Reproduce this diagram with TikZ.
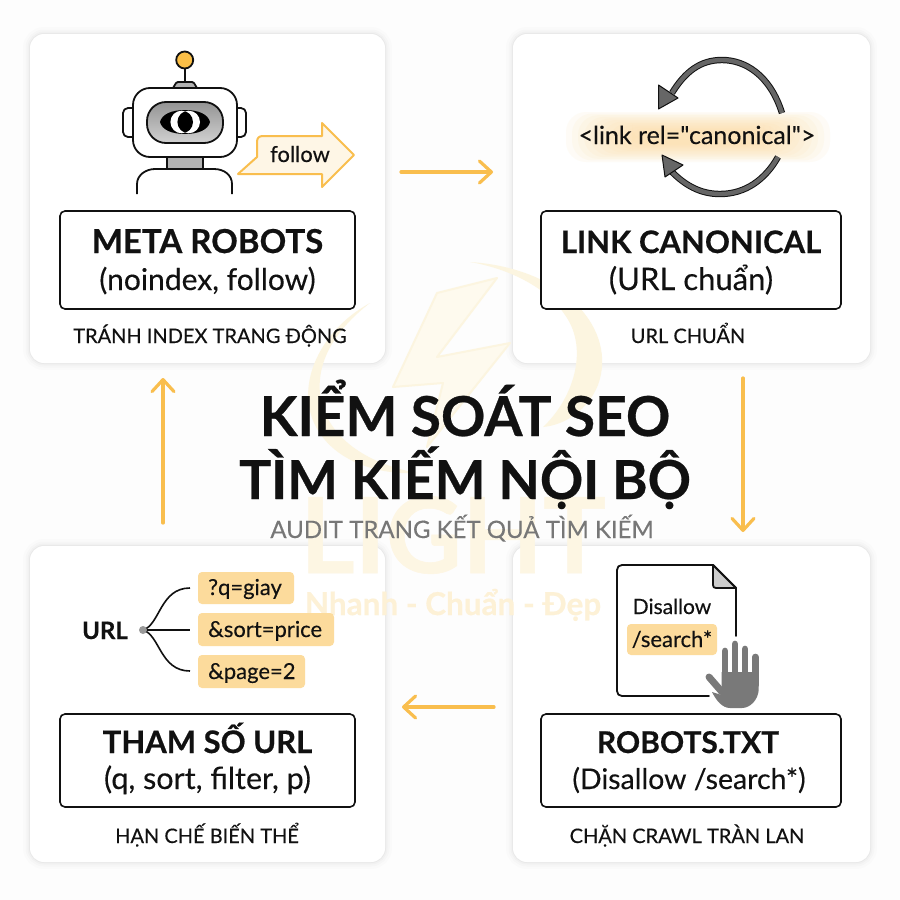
\documentclass[tikz,border=0pt]{standalone}
\usepackage{fontspec}
\setmainfont{Lato}[UprightFeatures={FakeBold=0.25},BoldFeatures={FakeBold=0.5}]
\newfontfamily\plainlato{Lato}[UprightFeatures={FakeBold=0.25}]
\usetikzlibrary{arrows.meta,shapes.geometric}
\definecolor{ink}{HTML}{111111}
\definecolor{flow}{HTML}{F9BE4E}
\definecolor{pill}{HTML}{FCDB9C}
\definecolor{ball}{HTML}{FBBF47}
\definecolor{sub}{HTML}{777777}
\definecolor{mark}{HTML}{FDF6E3}
\definecolor{markt}{HTML}{FDF1D6}
\definecolor{markb}{HTML}{FCF5E0}
\definecolor{bgc}{HTML}{FDFDFD}
\definecolor{handc}{HTML}{797979}
\definecolor{arcc}{HTML}{666666}
\tikzset{
 fs/.style={font=\fontsize{#1}{#1}\selectfont},
 card/.style={rectangle,fill=white,rounded corners=14pt,inner sep=0pt,
  preaction={draw=black,opacity=.012,line width=14pt},
  preaction={draw=black,opacity=.015,line width=9pt},
  preaction={draw=black,opacity=.02,line width=5pt},
  preaction={draw=black,opacity=.03,line width=2pt}},
 labelbox/.style={rectangle,draw=ink,line width=1.6pt,fill=white,rounded corners=5pt,inner sep=0pt},
 txt/.style={inner sep=0pt,text=ink,anchor=base},
 title/.style={txt,font=\fontsize{#1}{#1}\selectfont\bfseries},
 detail/.style={txt,fs=#1},
 caption/.style={txt,fs=20},
 flowarrow/.style={draw=flow,line width=3.2pt,line cap=round,-{Straight Barb[round,length=12pt,width=22pt,line width=3.2pt]}},
 outl/.style={draw=ink,line width=1.8pt,line join=round},
 pillbox/.style={rectangle,fill=pill,rounded corners=4pt,inner sep=0pt},
 branch/.style={draw=ink,line width=1.6pt},
}
\begin{document}
\begin{tikzpicture}[x=1pt,y=-1pt]
\useasboundingbox (0,0) rectangle (900,900);
\fill[bgc] (0,0) rectangle (900,900);
% cards
\node[card,minimum width=355pt,minimum height=329pt] (c1) at (207.5,198.5) {};
\node[card,minimum width=357pt,minimum height=329pt] (c2) at (691.5,198.5) {};
\node[card,minimum width=355pt,minimum height=316pt] (c3) at (207.5,704) {};
\node[card,minimum width=357pt,minimum height=316pt] (c4) at (691.5,704) {};
% watermark
\fill[markb] (470,262) .. controls (565,268) and (618,330) .. (598,385) .. controls (588,410) and (565,425) .. (543,427) .. controls (572,400) and (590,350) .. (565,315) .. controls (545,285) and (505,268) .. (470,262) -- cycle;
\fill[markb] (370,303) .. controls (320,330) and (295,385) .. (315,425) .. controls (335,465) and (385,475) .. (417,473) .. controls (375,465) and (335,445) .. (322,405) .. controls (312,365) and (335,330) .. (370,303) -- cycle;
\draw[fill=mark!60,draw=markb,line width=2pt,line join=round] (497,278) -- (437,293) -- (393,387) -- (443,383) -- (427,447) -- (510,343) -- (437,357) -- cycle;
\node[txt,text=mark,font=\fontsize{105}{105}\selectfont\bfseries] (wm1) at (453,573) {LIGHT};
\node[txt,text=markt,font=\fontsize{31.5}{31.5}\selectfont\bfseries] (wm2) at (453,615) {Nhanh - Chuẩn - Đẹp};
% label boxes
\node[labelbox,minimum width=295pt,minimum height=98pt] (b1) at (207.5,260) {};
\node[labelbox,minimum width=300pt,minimum height=98pt] (b2) at (691,260) {};
\node[labelbox,minimum width=295pt,minimum height=93pt] (b3) at (207.5,760.5) {};
\node[labelbox,minimum width=300pt,minimum height=93pt] (b4) at (691,760.5) {};
\node[title=33] (t1) at (207.5,253) {META ROBOTS};
\node[detail=30] (d1) at (207.5,290) {(noindex, follow)};
\node[caption] (k1) at (210,343) {TRÁNH INDEX TRANG ĐỘNG};
\node[title=31] (t2) at (691,253) {LINK CANONICAL};
\node[detail=31] (d2) at (691,290) {(URL chuẩn)};
\node[caption] (k2) at (688,343) {URL CHUẨN};
\node[title=31] (t3) at (207.5,753) {THAM SỐ URL};
\node[detail=30.5] (d3) at (207.5,789) {(q, sort, filter, p)};
\node[caption] (k3) at (207,843) {HẠN CHẾ BIẾN THỂ};
\node[title=30] (t4) at (688,753) {ROBOTS.TXT};
\node[detail=28.5] (d4) at (689,789) {(Disallow /search*)};
\node[caption] (k4) at (687,843) {CHẶN CRAWL TRÀN LAN};
% central title
\node[txt,font=\fontsize{55}{55}\selectfont\bfseries] (h1) at (465,436) {KIỂM SOÁT SEO};
\node[txt,font=\fontsize{53.7}{53.7}\selectfont\bfseries] (h2) at (465,499) {TÌM KIẾM NỘI BỘ};
\node[txt,text=sub,fs=24] (h3) at (462,538) {AUDIT TRANG KẾT QUẢ TÌM KIẾM};
% cycle arrows
\coordinate (a1s) at (401,172); \coordinate (a1e) at (493,172);
\coordinate (a2s) at (743,378); \coordinate (a2e) at (743,532);
\coordinate (a3s) at (494,707); \coordinate (a3e) at (402,707);
\coordinate (a4s) at (163,523); \coordinate (a4e) at (163,378);
\draw[flowarrow] (a1s) -- (a1e);
\draw[flowarrow] (a2s) -- (a2e);
\draw[flowarrow] (a3s) -- (a3e);
\draw[flowarrow] (a4s) -- (a4e);
% robot
\draw[outl] (184.7,82) -- (184.7,66);
\draw[outl,fill=ball] (184.7,60) circle[radius=8.5pt];
\draw[outl,fill=black!30] (173,88) -- (176,83) -- (178,82) -- (192,82) -- (194,83) -- (197,88) -- cycle;
\draw[outl,fill=white,rounded corners=5pt] (123,108) rectangle (146,137);
\draw[outl,fill=white,rounded corners=5pt] (224,108) rectangle (246,137);
\draw[outl,fill=black!30] (167,155) rectangle (203,169);
\draw[outl,fill=white,rounded corners=17pt] (133,88) rectangle (237,157);
\draw[outl,top color=black!42,bottom color=black!18,rounded corners=19pt] (147,102) rectangle (223,143);
\fill[black] (160,122) .. controls (162,114) and (172,110) .. (185,110) .. controls (198,110) and (208,114) .. (210,122) .. controls (208,130) and (198,134) .. (185,134) .. controls (172,134) and (162,130) .. (160,122) -- cycle;
\fill[white] (181.7,122) circle[radius=11.3pt];
\fill[white] (188.7,122) circle[radius=11.3pt];
\begin{scope}
\clip (181.7,122) circle[radius=11.3pt];
\fill[black] (188.7,122) circle[radius=11.3pt];
\end{scope}
\draw[outl] (137,194) -- (137,184) .. controls (137,175) and (146,169) .. (155,169) -- (214,169) .. controls (224,169) and (232,175) .. (232,184) -- (232,194);
% follow arrow
\draw[draw=flow,line width=2pt,fill=pill!25,line join=round] (238,174) -- (257,157) -- (257,142) .. controls (257,138) and (259,136) .. (263,136) -- (322,136) -- (322,123) -- (354,155) -- (322,187) -- (322,174) -- cycle;
\node[txt,fs=22] (fo) at (300,162) {follow};
% canonical
\foreach \i in {0,...,11}{
\fill[pill,opacity=.09,rounded corners=20pt] ({566+\i*6},{112+\i*1.6}) rectangle ({830-\i*6},{162-\i*1.6});
}
\node[txt,font=\plainlato\fontsize{25}{25}\selectfont] (can) at (697,144) {<link rel="canonical">};
\foreach \wid/\col in {6.4pt/ink,4.4pt/arcc}{
\draw[draw=\col,line width=\wid] (782,113) .. controls (770,75) and (745,60) .. (722,60) .. controls (700,60) and (685,72) .. (672,93);
\draw[draw=\col,line width=\wid] (778,157) .. controls (765,180) and (745,194) .. (720,194) .. controls (700,194) and (685,185) .. (672,172);
}
\draw[draw=ink,fill=arcc,line width=1pt,line join=round] (658.5,85) -- (678,98) -- (658.5,109) -- cycle;
\draw[draw=ink,fill=arcc,line width=1pt,line join=round] (662,155) -- (683,165) -- (665,177) -- cycle;
% URL tree
\node[txt,font=\fontsize{24}{24}\selectfont\bfseries] (url) at (105,639) {URL};
\node[pillbox,minimum width=96pt,minimum height=32pt] (p1) at (246,588) {};
\node[pillbox,minimum width=136pt,minimum height=33pt] (p2) at (266,629.5) {};
\node[pillbox,minimum width=107pt,minimum height=33pt] (p3) at (251.5,671.5) {};
\node[txt,anchor=base west,fs=22] (q1) at (208,595) {?q=giay};
\node[txt,anchor=base west,fs=22] (q2) at (208,637) {\&sort=price};
\node[txt,anchor=base west,fs=22] (q3) at (208,679) {\&page=2};
\coordinate (e1) at (190,588); \coordinate (e2) at (190,630); \coordinate (e3) at (190,671);
\coordinate (dot) at (143,630);
\draw[branch] (dot) .. controls (160,625) and (160,588) .. (e1);
\draw[branch] (dot) -- (e2);
\draw[branch] (dot) .. controls (160,635) and (160,671) .. (e3);
\fill[black!40] (dot) circle[radius=4pt];
% doc
\draw[outl,line cap=round] (736,636) -- (736,588) -- (713,565) -- (622,565) .. controls (619,565) and (617,567) .. (617,570) -- (617,691) .. controls (617,694) and (619,696) .. (622,696) -- (709,696);
\draw[outl,fill=black!20] (713,565) -- (713,585) .. controls (713,587) and (714,588) .. (716,588) -- (736,588) -- cycle;
\node[txt,fs=21] (dis) at (672,614) {Disallow};
\node[pillbox,minimum width=90pt,minimum height=31pt] (sp) at (672,639.5) {};
\node[txt,fs=22] (se) at (672,647) {/search*};
% hand
\draw[white,line width=3pt,line join=round,line cap=round,fill=white] (721,655) -- (759,655) -- (759,700) -- (722,700) -- cycle;
\foreach \hx/\hy in {725/651,735/644,745/649,755.3/657}{
\draw[handc,line width=6.7pt,line cap=round] (\hx,\hy) -- (\hx,685);
}
\fill[handc] (721.6,672) -- (758.7,672) -- (758.7,690) .. controls (758,700) and (750,708) .. (742,708) -- (730,708) .. controls (722,708) and (716,700) .. (712,692) -- (721.6,695) -- cycle;
\draw[handc,line width=7pt,line cap=round] (709,677) -- (722,692);
\end{tikzpicture}
\end{document}
